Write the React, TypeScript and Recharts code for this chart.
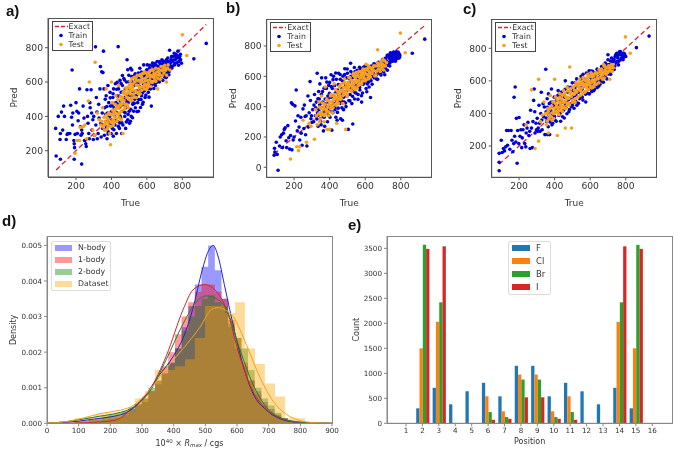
import { ReactNode } from 'react'
import {
  Area,
  Bar,
  BarChart,
  ComposedChart,
  Legend,
  Line,
  ReferenceLine,
  Scatter,
  ScatterChart,
  XAxis,
  YAxis,
} from 'recharts'

type Pair = [number, number]

const FONT = '"DejaVu Sans", sans-serif'
const TRAIN_COLOR = '#0000d6'
const TEST_COLOR = '#f8a01c'
const EXACT_COLOR = '#e0202e'

const exactEnds: Pair = [88, 935]
const scatterTicks = [200, 400, 600, 800]

const trainA: Pair[] = [
  [88,169],[112,150],[190,150],[232,122],[85,330],[100,400],[110,265],[112,300],[118,425],[125,320],[130,460],[135,400],[145,265],[150,295],[155,300],[165,300],[170,465],[175,395],[178,670],[180,350],[182,420],[188,260],[190,240],[192,218],[195,295],[200,480],[205,430],[208,300],[212,375],[215,420],[220,560],[225,340],[228,290],[232,320],[235,300],[240,460],[245,390],[248,260],[255,240],[258,225],[262,555],[265,400],[268,360],[272,300],[275,270],[278,480],[280,450],[285,555],[288,420],[290,320],[295,380],[298,265],[300,400],[305,290],[310,805],[312,350],[315,510],[318,425],[320,270],[325,300],[328,470],[330,390],[335,560],[338,690],[340,360],[342,280],[345,660],[348,420],[350,330],[352,655],[355,780],[358,560],[360,290],[362,450],[365,500],[368,370],[370,520],[372,340],[375,270],[378,420],[380,580],[382,310],[385,480],[388,400],[390,350],[392,540],[395,460],[398,300],[400,430],[402,380],[405,330],[408,510],[410,285],[412,560],[415,450],[418,400],[420,350],[422,590],[425,480],[428,300],[430,520],[432,420],[435,370],[438,806],[440,560],[442,450],[445,330],[448,610],[450,490],[452,390],[455,540],[458,300],[460,430],[462,580],[465,350],[468,470],[470,620],[472,510],[475,400],[478,560],[480,330],[482,450],[485,600],[488,730],[490,520],[492,380],[495,480],[498,640],[500,430],[502,360],[505,560],[508,680],[510,500],[512,400],[515,670],[518,600],[520,470],[522,540],[525,430],[528,580],[530,640],[532,500],[535,450],[538,610],[540,550],[542,520],[545,640],[548,480],[550,590],[552,430],[555,620],[558,540],[560,680],[562,500],[565,600],[568,560],[570,520],[572,630],[575,470],[578,650],[580,590],[582,700],[585,550],[588,610],[590,510],[592,660],[595,640],[598,570],[600,620],[602,700],[605,590],[608,540],[610,660],[612,630],[615,680],[618,600],[620,560],[622,650],[625,460],[628,620],[630,670],[632,710],[635,640],[638,590],[640,690],[642,620],[645,660],[648,580],[650,700],[652,640],[655,610],[658,720],[660,670],[662,630],[665,650],[668,690],[670,600],[672,720],[675,660],[678,640],[680,700],[682,680],[685,730],[688,650],[690,610],[692,710],[695,670],[698,700],[700,630],[702,720],[705,680],[708,650],[710,730],[712,700],[715,660],[718,740],[720,690],[722,720],[725,660],[728,785],[730,700],[735,730],[740,680],[745,720],[750,750],[755,700],[760,730],[765,760],[770,740],[775,780],[780,720],[785,750],[790,730],[795,710],[865,735],[935,825],
]
const trainCoreA: Pair[] = [
  [362,322],[368,412],[374,458],[381,298],[387,372],[393,508],[399,348],[404,462],[409,532],[414,322],[419,428],[424,376],[429,558],[434,472],[439,342],[444,518],[449,402],[454,592],[459,362],[464,542],[469,428],[474,612],[479,492],[484,368],[489,562],[494,412],[499,602],[504,524],[509,442],[514,632],[519,392],[524,578],[529,476],[534,648],[539,522],[544,428],[549,612],[554,498],[559,574],[564,452],[569,658],[574,536],[579,482],[584,632],[589,578],[594,524],[599,672],[604,612],[609,562],[614,698],[619,640],[624,582],[629,694],[634,622],[639,562],[644,708],[649,650],[654,598],[659,692],[664,622],[669,662],[674,708],[679,616],[684,688],[689,722],[694,642],[699,668],[704,708],[709,626],[714,684],[719,718],[724,642],[729,682],[734,712],[739,748],[744,692],[749,728],[754,768],[759,708],[764,742],[769,712],[774,752],[779,698],[784,738],[789,762],[432,598],[447,362],[462,638],[477,422],[492,672],[507,372],[522,478],[537,588],[552,652],[567,498],[582,548],[597,592],[612,512],[627,652],[642,672],
]
const testA: Pair[] = [
  [195,185],[205,260],[220,260],[225,335],[240,340],[250,350],[260,270],[275,600],[270,490],[295,320],[305,290],[308,715],[320,420],[330,380],[340,350],[350,450],[360,320],[365,370],[370,560],[375,390],[380,340],[385,420],[390,300],[395,235],[400,600],[405,480],[410,410],[415,370],[420,440],[425,520],[430,390],[435,460],[440,580],[445,420],[450,470],[455,380],[460,500],[465,300],[470,440],[475,530],[480,470],[485,560],[490,510],[495,450],[500,580],[505,530],[510,490],[515,620],[520,570],[525,530],[530,600],[535,550],[540,510],[545,640],[550,580],[555,540],[560,610],[565,570],[570,630],[575,600],[580,650],[585,560],[590,620],[595,580],[600,650],[605,610],[610,590],[615,660],[620,630],[625,600],[630,670],[635,630],[640,650],[645,610],[650,680],[655,640],[660,560],[665,660],[670,640],[680,690],[690,670],[700,680],[710,600],[720,700],[730,670],[800,875],[825,755],
]
const testCoreA: Pair[] = [
  [345,372],[352,338],[358,395],[362,352],[367,318],[371,408],[376,362],[381,384],[386,345],[392,372],[397,412],[402,366],[406,436],[411,352],[416,398],[421,470],[426,418],[431,372],[436,498],[441,446],[446,392],[451,516],[456,428],[461,472],[466,538],[471,492],[476,452],[481,566],[486,512],[491,468],[496,542],[501,498],[506,604],[511,548],[516,506],[521,588],[526,552],[531,512],[536,624],[541,582],[546,540],[551,608],[556,566],[561,642],[566,596],[571,552],[576,618],[581,574],[586,660],[591,606],[596,558],[601,632],[606,590],[611,648],[616,612],[621,574],[626,638],[631,598],[636,668],[641,626],[646,642],[651,604],[656,658],[661,622],[666,676],[671,650],[676,616],[681,668],[686,636],[691,688],[696,652],[701,698],[706,668],[711,640],[716,682],[541,612],[528,628],[552,532],[563,530],[574,648],[588,586],[599,654],[603,566],[617,640],[622,668],[508,560],[514,586],[497,570],[484,530],[472,544],[463,512],[455,494],[448,462],[439,412],[428,452],[417,426],[409,382],[399,342],[388,412],[378,328],
]

const trainB: Pair[] = [
  [88,80],[90,125],[92,100],[100,165],[105,85],[110,-20],[118,140],[122,200],[130,215],[135,130],[140,225],[145,250],[150,260],[155,175],[158,130],[165,275],[170,195],[175,120],[180,210],[185,425],[188,115],[192,415],[195,180],[200,200],[205,405],[208,305],[212,510],[218,240],[222,340],[228,265],[232,180],[238,330],[240,225],[245,145],[250,385],[255,255],[258,410],[262,335],[265,215],[268,340],[272,140],[278,470],[280,265],[285,360],[290,565],[292,440],[295,320],[298,340],[300,295],[305,380],[310,300],[312,410],[315,480],[320,340],[325,430],[330,620],[332,360],[335,270],[338,500],[340,380],[342,450],[345,550],[348,320],[350,420],[352,280],[355,590],[358,360],[360,500],[362,430],[365,240],[368,380],[370,330],[372,270],[375,450],[378,590],[380,400],[382,520],[385,360],[388,300],[390,470],[392,430],[395,540],[398,380],[400,560],[402,330],[405,460],[408,610],[410,400],[412,245],[415,520],[418,360],[420,470],[422,600],[425,420],[428,540],[430,380],[432,490],[435,330],[438,580],[440,440],[442,310],[445,510],[448,390],[450,620],[452,470],[455,540],[458,420],[460,580],[462,320],[465,490],[468,440],[470,520],[472,310],[475,600],[478,380],[480,560],[482,430],[485,650],[488,500],[490,540],[492,400],[495,590],[498,470],[500,620],[502,520],[505,250],[508,440],[510,560],[515,480],[518,686],[520,600],[522,540],[525,420],[528,590],[530,285],[532,620],[535,500],[538,560],[540,450],[542,630],[545,530],[548,490],[550,590],[555,640],[558,540],[560,480],[562,600],[565,570],[568,660],[570,510],[572,620],[575,550],[578,590],[580,430],[582,640],[585,490],[588,610],[590,660],[595,560],[598,630],[600,580],[602,600],[605,520],[608,640],[610,670],[612,550],[615,620],[618,590],[620,660],[622,530],[625,610],[628,640],[630,460],[633,570],[636,600],[640,650],[645,620],[650,590],[655,680],[660,640],[665,610],[670,580],[675,650],[680,690],[685,620],[690,660],[695,700],[700,640],[705,670],[710,610],[715,720],[720,680],[725,640],[730,740],[735,690],[740,710],[745,750],[750,720],[755,700],[760,760],[765,730],[770,700],[775,750],[780,735],[785,760],[790,720],[795,740],[865,752],[935,845],
]
const trainCoreB: Pair[] = [
  [322,392],[328,318],[334,452],[339,346],[344,412],[349,304],[354,482],[359,392],[364,334],[369,522],[374,418],[379,362],[384,562],[389,448],[394,342],[399,488],[404,402],[409,532],[414,364],[419,578],[424,462],[429,398],[434,622],[439,498],[444,362],[449,546],[454,428],[459,612],[464,478],[469,392],[474,568],[479,462],[484,612],[489,424],[494,528],[499,648],[504,478],[509,588],[514,438],[519,632],[524,522],[529,468],[534,602],[539,658],[544,492],[549,558],[554,618],[559,448],[564,588],[569,526],[574,648],[579,472],[584,598],[589,548],[594,612],[599,668],[604,572],[609,498],[614,642],[619,562],[624,652],[629,592],[634,668],[639,548],[644,632],[649,682],[654,608],[659,658],[664,582],[669,632],[674,692],[679,622],[684,662],[689,608],[694,672],[699,712],[704,628],[709,686],[714,652],[719,702],[724,738],[729,672],[734,722],[739,688],[744,738],[749,700],[754,752],[759,712],[764,748],[769,722],[774,762],[779,716],[784,745],[789,752],[794,728],[765,705],[752,732],[742,755],[738,668],
]
const testB: Pair[] = [
  [180,55],[215,135],[225,110],[232,135],[250,310],[270,165],[285,290],[295,270],[315,185],[320,380],[325,340],[330,280],[340,430],[345,300],[350,390],[355,470],[360,350],[365,420],[370,300],[375,530],[380,380],[385,250],[390,440],[395,340],[400,250],[405,470],[410,400],[415,360],[420,440],[425,550],[430,480],[435,410],[440,290],[445,500],[450,420],[455,470],[460,540],[465,450],[470,510],[475,420],[480,490],[485,560],[490,250],[495,520],[500,470],[505,560],[510,510],[515,590],[520,540],[525,500],[530,570],[535,620],[540,530],[545,590],[550,560],[555,520],[560,610],[565,570],[570,630],[575,590],[580,550],[585,640],[590,600],[595,620],[600,570],[605,680],[610,610],[615,640],[620,590],[625,660],[630,620],[640,640],[650,670],[660,610],[670,775],[680,680],[690,650],[700,710],[710,670],[720,690],[798,885],[825,755],
]
const testCoreB: Pair[] = [
  [338,352],[344,398],[349,318],[354,362],[359,424],[364,382],[369,340],[374,412],[379,352],[384,448],[389,398],[394,366],[399,432],[404,388],[409,482],[414,430],[419,392],[424,468],[429,416],[434,512],[439,460],[444,424],[449,486],[454,532],[459,448],[464,502],[469,552],[474,472],[479,528],[484,582],[489,498],[494,546],[499,486],[504,532],[509,592],[514,548],[519,508],[524,572],[529,526],[534,606],[539,558],[544,512],[549,624],[554,572],[559,538],[564,632],[569,592],[574,552],[579,612],[584,568],[589,648],[594,588],[599,622],[604,644],[609,580],[614,612],[619,668],[624,628],[629,596],[634,652],[639,618],[644,660],[649,636],[654,602],[659,668],[664,634],[669,688],[674,648],[679,668],[684,632],[689,696],[694,664],[699,680],[704,642],[709,702],[714,668],[541,598],[527,548],[556,602],[566,544],[577,628],[587,606],[596,640],[611,650],[621,602],[501,516],[487,526],[472,508],[457,488],[442,438],[427,450],[412,406],[397,412],[382,372],[367,396],[352,346],
]

const trainC: Pair[] = [
  [88,48],[88,100],[88,155],[100,235],[105,160],[112,185],[118,170],[125,195],[130,295],[135,205],[140,295],[148,180],[155,295],[160,235],[165,165],[170,215],[172,499],[175,260],[178,562],[182,225],[185,370],[189,94],[192,295],[198,215],[200,375],[205,260],[210,300],[215,190],[218,250],[222,300],[228,330],[232,215],[238,195],[240,280],[245,310],[250,345],[255,265],[260,290],[262,185],[265,420],[270,310],[275,190],[278,350],[282,480],[285,550],[288,410],[290,280],[295,340],[298,300],[302,370],[305,290],[308,310],[312,450],[315,340],[318,290],[322,400],[325,530],[328,360],[330,300],[335,460],[338,380],[342,440],[345,270],[350,671],[352,410],[355,350],[358,490],[360,270],[362,430],[365,520],[368,390],[370,460],[372,270],[375,370],[378,420],[382,550],[385,330],[388,470],[392,400],[395,440],[398,500],[402,360],[405,430],[410,480],[415,410],[420,540],[425,450],[430,400],[435,510],[440,470],[445,380],[450,420],[455,500],[460,600],[465,440],[470,480],[475,530],[480,410],[485,460],[490,560],[495,500],[500,450],[505,540],[510,470],[515,590],[520,510],[525,450],[530,570],[535,530],[540,490],[545,610],[550,560],[555,500],[560,640],[565,590],[570,530],[575,470],[580,610],[585,560],[590,640],[595,520],[600,590],[605,660],[610,570],[615,620],[620,540],[625,650],[630,590],[635,610],[640,560],[645,660],[650,620],[655,580],[660,640],[665,610],[670,670],[675,630],[680,660],[685,710],[690,640],[695,680],[700,730],[705,660],[710,700],[715,640],[720,740],[725,690],[730,720],[735,670],[740,750],[745,710],[750,770],[755,740],[760,720],[765,760],[770,780],[775,740],[780,760],[785,730],[790,770],[800,750],[860,804],[931,875],
]
const trainCoreC: Pair[] = [
  [352,372],[358,438],[364,318],[369,412],[374,348],[379,468],[384,392],[389,340],[394,452],[399,382],[404,498],[409,352],[414,442],[419,512],[424,388],[429,474],[434,352],[439,532],[444,418],[449,468],[454,372],[459,548],[464,452],[469,398],[474,562],[479,486],[484,424],[489,532],[494,442],[499,588],[504,502],[509,432],[514,556],[519,474],[524,612],[529,528],[534,462],[539,582],[544,504],[549,628],[554,548],[559,482],[564,612],[569,566],[574,518],[579,648],[584,524],[589,586],[594,662],[599,552],[604,618],[609,534],[614,658],[619,592],[624,548],[629,628],[634,574],[639,672],[644,602],[649,568],[654,642],[659,598],[664,688],[669,624],[674,592],[679,682],[684,630],[689,668],[694,612],[699,698],[704,642],[709,672],[714,722],[719,662],[724,708],[729,668],[734,732],[739,692],[744,762],[749,718],[754,754],[759,698],[764,778],[769,728],[774,762],[779,742],[784,770],[789,745],[794,762],[700,760],
]
const testC: Pair[] = [
  [240,330],[270,545],[290,185],[310,230],[310,610],[320,350],[330,390],[340,470],[350,400],[355,330],[360,430],[365,280],[370,390],[375,510],[380,440],[385,360],[390,470],[395,410],[400,610],[405,500],[410,440],[415,265],[420,400],[425,470],[430,520],[435,440],[440,490],[445,410],[450,540],[455,470],[460,310],[465,430],[470,560],[475,500],[480,460],[485,685],[490,530],[495,310],[500,480],[505,560],[510,520],[515,470],[520,590],[525,540],[530,500],[535,570],[540,610],[545,540],[550,580],[555,530],[560,620],[565,570],[570,530],[575,600],[580,560],[585,640],[590,590],[595,630],[600,570],[605,650],[610,600],[615,560],[620,630],[625,590],[630,650],[640,620],[650,670],[660,640],[670,610],[675,700],[680,690],[690,660],[700,680],[710,610],[720,700],[730,680],[798,870],[825,770],
]
const testCoreC: Pair[] = [
  [352,398],[358,352],[364,412],[369,368],[374,428],[379,382],[384,446],[389,402],[394,368],[399,432],[404,462],[409,414],[414,482],[419,436],[424,392],[429,498],[434,452],[439,416],[444,512],[449,468],[454,432],[459,522],[464,482],[469,448],[474,538],[479,492],[484,452],[489,552],[494,504],[499,470],[504,564],[509,518],[514,488],[519,574],[524,530],[529,496],[534,586],[539,546],[544,510],[549,592],[554,556],[559,524],[564,606],[569,568],[574,536],[579,618],[584,578],[589,546],[594,626],[599,588],[604,558],[609,632],[614,596],[619,568],[624,642],[629,606],[634,578],[639,648],[644,612],[649,588],[654,654],[659,622],[664,672],[669,636],[674,654],[679,618],[684,668],[689,640],[694,682],[699,652],[704,692],[709,664],[714,678],[719,688],[724,658],[729,700],[412,452],[437,472],[462,502],[487,522],[512,542],[537,562],[562,582],[587,602],[612,622],[637,642],[662,658],[397,398],[422,418],[447,444],[472,462],
]

// density histograms, step heights per bin
const modelEdges = [89,110,131,152,173,194,215,236,257,278,299,320,341,362,383,404,425,446,467,488,509,530,551,572,593,614,635,656,677,698,719,740,761,782,803,824]
const nBodyBins = [.00005,.00005,.0001,.0001,.00015,.0002,.0002,.0003,.0004,.0005,.0006,.0009,.0011,.0014,.0017,.0021,.0027,.0033,.0039,.0044,.005,.0043,.0035,.0027,.0021,.0016,.0012,.0009,.0006,.0004,.00025,.00015,.00008,.00004,.00002]
const oneBodyBins = [.00002,.00003,.00005,.00008,.0001,.00012,.00015,.00022,.00035,.00055,.0007,.0009,.0012,.0016,.002,.0025,.003,.0034,.0037,.0039,.0039,.0037,.0035,.0029,.0024,.0017,.0012,.0008,.0005,.0003,.0002,.0001,.00005,.00003,.00001]
const twoBodyBins = [.00005,.00007,.0001,.00015,.0002,.00025,.0003,.00035,.00045,.00055,.0007,.001,.0012,.0014,.0017,.0021,.0026,.003,.0033,.0035,.0036,.0034,.0033,.0028,.0024,.0021,.0015,.001,.0007,.0005,.0003,.00015,.00007,.00003,.00001]
const datasetEdges = [88,120,151,183,214,246,278,309,341,372,404,436,467,499,530,562,594,625,657,688,720,752,783,815]
const datasetBins = [.00015,.00017,.00025,.0003,.0003,.00035,.0007,.0009,.0015,.0015,.0016,.0018,.0024,.0033,.0033,.0031,.0034,.0021,.00167,.00112,.00075,.00014,.00014]

const nBodyCurveX = [0,50,100,150,200,250,300,350,400,430,460,490,510,525,540,560,577,608,650,693,745,800,900]
const nBodyCurveY = [0,.00002,.00006,.00012,.00018,.0003,.00065,.0013,.0019,.0024,.0032,.0043,.00485,.005,.0047,.0039,.0032,.002,.00085,.00037,.0001,.00002,0]
const oneBodyCurveX = [0,100,170,220,272,325,377,430,461,498,530,567,608,650,693,745,800,900]
const oneBodyCurveY = [0,.00001,.00004,.0001,.00045,.00095,.0019,.0032,.00375,.0039,.00375,.0032,.0019,.0009,.0004,.00012,.00003,0]
const twoBodyCurveX = [0,62,115,167,220,272,325,377,430,470,503,535,567,608,650,693,745,800,900]
const twoBodyCurveY = [0,.00005,.00012,.0002,.00028,.00045,.0009,.0018,.0028,.0034,.00358,.0035,.0032,.0021,.0011,.00045,.00013,.00003,0]
const datasetCurveX = [0,62,115,167,220,272,325,377,430,483,520,540,560,588,630,672,714,756,798,840,900]
const datasetCurveY = [0,.00005,.00015,.00027,.00035,.0005,.00095,.00155,.0021,.0027,.0032,.00325,.0032,.003,.0022,.0013,.00062,.00025,.00008,.00002,0]

const densityXTicks = [0,100,200,300,400,500,600,700,800,900]
const densityYTicks = [0,.001,.002,.003,.004,.005]

// halogen counts per position
const positions = ['1','2','3','4','5','6','7','8','9','10','11','12','13','14','15','16']
const fluorine = [0,300,710,380,640,810,540,1150,1150,540,810,640,380,710,300,0]
const chlorine = [0,1500,2030,0,0,540,240,975,975,240,540,0,0,2030,1500,0]
const bromine = [0,3570,2420,0,0,225,125,875,875,125,225,0,0,2420,3570,0]
const iodine = [0,3490,3540,0,0,70,90,520,520,90,70,0,0,3540,3490,0]
const countTicks = [0,500,1000,1500,2000,2500,3000,3500]

const toPoints = (pairs: Pair[]) => pairs.map(([x, y]) => ({ x, y }))
const stepData = (edges: number[], bins: number[]) =>
  edges.map((x, i) => ({ x, y: i < bins.length ? bins[i] : 0 }))
const curveData = (xs: number[], ys: number[]) => xs.map((x, i) => ({ x, y: ys[i] }))

const countData = positions.map((position, i) => ({
  position,
  F: fluorine[i],
  Cl: chlorine[i],
  Br: bromine[i],
  I: iodine[i],
}))

const dot = (color: string) => (props: any) => (
  <circle cx={props.cx} cy={props.cy} r={1.8} fill={color} />
)

function PanelTag({ text, left, top }: { text: string; left: number; top: number }) {
  return (
    <div
      style={{
        position: 'absolute',
        left,
        top,
        fontFamily: '"Liberation Sans", sans-serif',
        fontWeight: 700,
        fontSize: 15,
        lineHeight: '16px',
        color: '#111',
      }}
    >
      {text}
    </div>
  )
}

// outline of the plot area, the axes only draw left and bottom
function PlotFrame({ left, top, width, height, color }: { left: number; top: number; width: number; height: number; color: string }) {
  return (
    <div
      style={{
        position: 'absolute',
        left,
        top,
        width,
        height,
        boxSizing: 'border-box',
        border: `1px solid ${color}`,
        pointerEvents: 'none',
      }}
    />
  )
}

function ScatterLegend() {
  const rows: [string, ReactNode][] = [
    ['Exact', <line x1={2} x2={15} y1={4.5} y2={4.5} stroke={EXACT_COLOR} strokeWidth={1.3} strokeDasharray="4 2" />],
    ['Train', <circle cx={8} cy={4.5} r={1.8} fill={TRAIN_COLOR} />],
    ['Test', <circle cx={8} cy={4.5} r={1.8} fill={TEST_COLOR} />],
  ]
  return (
    <div style={{ border: '1px solid #444', background: '#fff', fontFamily: FONT, fontSize: 7.8, color: '#333', boxSizing: 'border-box', height: 30, whiteSpace: 'nowrap' }}>
      {rows.map(([name, mark]) => (
        <div key={name} style={{ display: 'flex', alignItems: 'center', height: 9.2 }}>
          <svg width={16} height={9} style={{ flexShrink: 0 }}>{mark}</svg>
          {name}
        </div>
      ))}
    </div>
  )
}

function ScatterPanel(props: {
  left: number
  axisWidth: number
  plotWidth: number
  top: number
  plotHeight: number
  xDomain: Pair
  yDomain: Pair
  yTicks: number[]
  train: Pair[]
  test: Pair[]
}) {
  const { left, axisWidth, plotWidth, top, plotHeight, xDomain, yDomain, yTicks, train, test } = props
  const tick = { fontSize: 9.2, fill: '#333', fontFamily: FONT }
  const label = { fontSize: 9, fill: '#333', fontFamily: FONT }
  return (
    <div style={{ position: 'absolute', left, top: 0 }}>
      <ScatterChart
        width={axisWidth + plotWidth + 8}
        height={top + plotHeight + 32}
        margin={{ top, right: 8, bottom: 0, left: 0 }}
      >
        <XAxis
          type="number"
          dataKey="x"
          domain={xDomain}
          ticks={scatterTicks}
          height={32}
          tick={tick}
          tickSize={3}
          stroke="#555"
          label={{ value: 'True', position: 'insideBottom', offset: 3, style: label }}
        />
        <YAxis
          type="number"
          dataKey="y"
          domain={yDomain}
          ticks={yTicks}
          width={axisWidth}
          tick={tick}
          tickSize={3}
          stroke="#555"
          label={{ value: 'Pred', angle: -90, position: 'insideLeft', offset: axisWidth - 34, style: { ...label, textAnchor: 'middle' } }}
        />
        <Scatter data={toPoints(train)} shape={dot(TRAIN_COLOR)} isAnimationActive={false} />
        <Scatter data={toPoints(test)} shape={dot(TEST_COLOR)} isAnimationActive={false} />
        <ReferenceLine
          segment={[
            { x: exactEnds[0], y: exactEnds[0] },
            { x: exactEnds[1], y: exactEnds[1] },
          ]}
          stroke={EXACT_COLOR}
          strokeWidth={1.3}
          strokeDasharray="5 3"
        />
        <Legend
          layout="vertical"
          align="center"
          verticalAlign="middle"
          content={() => <ScatterLegend />}
          wrapperStyle={{ left: axisWidth + 3.5, top: top + 2.5, width: 41, height: 30 }}
        />
      </ScatterChart>
      <PlotFrame left={axisWidth - 0.5} top={top - 0.5} width={plotWidth + 1} height={plotHeight + 1} color="#555" />
    </div>
  )
}

const densitySeries = [
  { name: 'N-body', color: '#0000ff', line: '#2323c8', edges: modelEdges, bins: nBodyBins, cx: nBodyCurveX, cy: nBodyCurveY },
  { name: '1-body', color: '#ff0000', line: '#d8202c', edges: modelEdges, bins: oneBodyBins, cx: oneBodyCurveX, cy: oneBodyCurveY },
  { name: '2-body', color: '#008000', line: '#2a7a2a', edges: modelEdges, bins: twoBodyBins, cx: twoBodyCurveX, cy: twoBodyCurveY },
  { name: 'Dataset', color: '#ffa500', line: '#eda520', edges: datasetEdges, bins: datasetBins, cx: datasetCurveX, cy: datasetCurveY },
]

function SwatchLegend({ rows, swatch, font, rowHeight }: { rows: [string, string][]; swatch: number; font: number; rowHeight: number }) {
  return (
    <div style={{ border: '1px solid #ddd', borderRadius: 2, background: '#fff', padding: '0 3px', boxSizing: 'border-box', fontFamily: FONT, fontSize: font, color: '#333' }}>
      {rows.map(([name, color]) => (
        <div key={name} style={{ display: 'flex', alignItems: 'center', height: rowHeight }}>
          <span style={{ width: swatch, height: 6, background: color, marginRight: 6, flexShrink: 0 }} />
          {name}
        </div>
      ))}
    </div>
  )
}

function DensityPanel() {
  const tick = { fontSize: 7.2, fill: '#333', fontFamily: FONT }
  return (
    <div style={{ position: 'absolute', left: 0, top: 226 }}>
      <ComposedChart width={342} height={226} margin={{ top: 10.5, right: 10, bottom: 0, left: 0 }}>
        <XAxis
          type="number"
          dataKey="x"
          domain={[0, 900]}
          ticks={densityXTicks}
          height={28.7}
          tick={tick}
          tickSize={3}
          stroke="#888"
          label={{
            content: ({ viewBox }: any) => (
              <text x={viewBox.x + viewBox.width / 2} y={viewBox.y + 22.5} textAnchor="middle" fontSize={8} fill="#333" fontFamily={FONT}>
                10<tspan dy={-3} fontSize={5.5}>40</tspan>
                <tspan dy={3}> × </tspan>
                <tspan fontStyle="italic">R</tspan>
                <tspan dy={1.5} fontSize={5.5} fontStyle="italic">max</tspan>
                <tspan dy={-1.5}> / cgs</tspan>
              </text>
            ),
          }}
        />
        <YAxis
          type="number"
          domain={[0, 0.00525]}
          ticks={densityYTicks}
          tickFormatter={(v: number) => v.toFixed(3)}
          width={47}
          tick={tick}
          tickSize={3}
          stroke="#888"
          label={{ value: 'Density', angle: -90, position: 'insideLeft', offset: 13, style: { fontSize: 8, fill: '#333', fontFamily: FONT, textAnchor: 'middle' } }}
        />
        {densitySeries.map((s) => (
          <Area
            key={s.name}
            data={stepData(s.edges, s.bins)}
            dataKey="y"
            type="stepAfter"
            stroke="none"
            fill={s.color}
            fillOpacity={0.4}
            dot={false}
            activeDot={false}
            isAnimationActive={false}
          />
        ))}
        {densitySeries.map((s) => (
          <Line
            key={s.name}
            data={curveData(s.cx, s.cy)}
            dataKey="y"
            type="monotone"
            stroke={s.line}
            strokeWidth={1}
            dot={false}
            activeDot={false}
            isAnimationActive={false}
          />
        ))}
        <Legend
          layout="vertical"
          align="center"
          verticalAlign="middle"
          content={() => (
            <SwatchLegend rows={densitySeries.map((s) => [s.name, s.color + '66'] as [string, string])} swatch={17} font={7.8} rowHeight={11.9} />
          )}
          wrapperStyle={{ left: 51, top: 15, width: 60, height: 49 }}
        />
      </ComposedChart>
      <PlotFrame left={46.5} top={10} width={286} height={187.8} color="#888" />
    </div>
  )
}

const countSeries: [string, string][] = [
  ['F', '#1f77b4'],
  ['Cl', '#ff7f0e'],
  ['Br', '#2ca02c'],
  ['I', '#d62728'],
]

function CountPanel() {
  const tick = { fontSize: 7.2, fill: '#333', fontFamily: FONT }
  return (
    <div style={{ position: 'absolute', left: 340, top: 226 }}>
      <BarChart
        width={342}
        height={226}
        data={countData}
        barGap={0}
        barSize={3.3}
        margin={{ top: 10, right: 9.7, bottom: 0, left: 0 }}
      >
        <XAxis
          dataKey="position"
          interval={0}
          padding={{ left: 10.8, right: 11.8 }}
          height={28.7}
          tick={tick}
          tickSize={3}
          stroke="#888"
          label={{ value: 'Position', position: 'insideBottom', offset: 8, style: { fontSize: 8, fill: '#333', fontFamily: FONT } }}
        />
        <YAxis
          type="number"
          domain={[0, 3747]}
          ticks={countTicks}
          width={47}
          tick={tick}
          tickSize={3}
          stroke="#888"
          label={{ value: 'Count', angle: -90, position: 'insideLeft', offset: 16, style: { fontSize: 8, fill: '#333', fontFamily: FONT, textAnchor: 'middle' } }}
        />
        {countSeries.map(([name, color]) => (
          <Bar key={name} dataKey={name} fill={color} isAnimationActive={false} />
        ))}
        <Legend
          layout="vertical"
          align="center"
          verticalAlign="middle"
          content={() => <SwatchLegend rows={countSeries} swatch={18} font={8.5} rowHeight={13} />}
          wrapperStyle={{ left: 168, top: 14.5, width: 43, height: 53 }}
        />
      </BarChart>
      <PlotFrame left={46.5} top={9.5} width={286.3} height={188.3} color="#888" />
    </div>
  )
}

export default function App() {
  return (
    <div
      style={{
        position: 'absolute',
        left: 0,
        top: 0,
        width: 686,
        height: 452,
        overflow: 'hidden',
        background: '#fff',
        filter: 'blur(0.45px)',
      }}
    >
      <ScatterPanel left={0} axisWidth={48} plotWidth={165} top={18} plotHeight={159} xDomain={[42, 973]} yDomain={[47, 973]} yTicks={scatterTicks} train={[...trainA, ...trainCoreA]} test={[...testA, ...testCoreA]} />
      <ScatterPanel left={222} axisWidth={44.7} plotWidth={165} top={19.3} plotHeight={158} xDomain={[46, 974]} yDomain={[-66, 976]} yTicks={[0, 200, 400, 600, 800]} train={[...trainB, ...trainCoreB]} test={[...testB, ...testCoreB]} />
      <ScatterPanel left={450} axisWidth={41.7} plotWidth={165} top={19.3} plotHeight={158} xDomain={[46, 974]} yDomain={[8, 978]} yTicks={scatterTicks} train={[...trainC, ...trainCoreC]} test={[...testC, ...testCoreC]} />
      <DensityPanel />
      <CountPanel />
      <PanelTag text="a)" left={6} top={3} />
      <PanelTag text="b)" left={226} top={0} />
      <PanelTag text="c)" left={463} top={1} />
      <PanelTag text="d)" left={2} top={213} />
      <PanelTag text="e)" left={348} top={217} />
    </div>
  )
}
